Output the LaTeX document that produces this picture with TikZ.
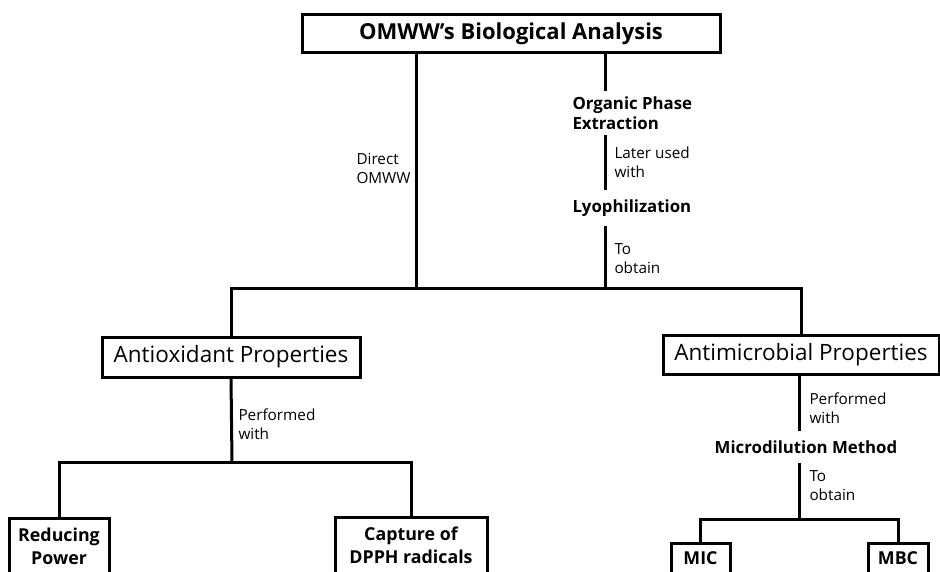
\documentclass[tikz,border=0pt]{standalone}
\usepackage{fontspec}
\setmainfont{Open Sans}
\begin{document}
\begin{tikzpicture}[x=1pt,y=-1pt,line width=3pt,
  box/.style={draw,line width=3pt,inner sep=0pt,align=center},
  title/.style={font=\bfseries\fontsize{22}{24}\selectfont},
  prop/.style={font=\fontsize{22.5}{24}\selectfont},
  stage/.style={font=\bfseries\fontsize{16.8}{20}\selectfont,align=left,inner sep=0pt},
  leaf/.style={font=\bfseries\fontsize{17.8}{23}\selectfont},
  lbl/.style={font=\fontsize{15.3}{19}\selectfont,align=left,inner sep=0pt,anchor=west}]
\clip (0,0) rectangle (940,572);

% boxes
\node[box,title,minimum width=418pt,minimum height=38pt] (root) at (511,34) {OMWW’s Biological Analysis};
\node[box,prop,minimum width=258pt,minimum height=40pt] (anti) at (231,357) {Antioxidant Properties};
\node[box,prop,minimum width=276pt,minimum height=39pt] (amic) at (801,354.5) {Antimicrobial Properties};
\node[box,leaf,minimum width=100pt,minimum height=57pt] (red) at (59,546.5) {Reducing\\Power};
\node[box,leaf,minimum width=152pt,minimum height=56pt] (cap) at (411,545) {Capture of\\DPPH radicals};
\node[box,leaf,minimum width=59pt,minimum height=30pt] (mic) at (700.5,558) {MIC};
\node[box,leaf,minimum width=60pt,minimum height=30pt] (mbc) at (898,558) {MBC};

% intermediate steps
\node[stage,anchor=west,inner ysep=4pt] (ope) at (571,113) {Organic Phase\\Extraction};
\node[stage,anchor=west,inner ysep=8pt] (lyo) at (571,208) {Lyophilization};
\node[stage,inner ysep=8pt] (micro) at (806,447) {Microdilution Method};

% junction points
\coordinate (spL) at (416,288);
\coordinate (spR) at (605,288);
\coordinate (hub) at (500,288);
\coordinate (hubA) at (232,462);
\coordinate (hubM) at (799,519);

% connectors from the root
\draw (root.south -| spL) -- (spL);
\draw (root.south -| spR) -- (spR |- ope.north);
\draw (ope.south -| spR) -- (lyo.north -| spR);
\draw (lyo.south -| spR) -- (spR);
\draw (anti.north) -- (anti.north |- hub) -- (amic.north |- hub) -- (amic.north);

% antioxidant branch
\draw (anti.south) -- (hubA);
\draw (red.north) -- (red.north |- hubA) -- (cap.north |- hubA) -- (cap.north);

% antimicrobial branch
\draw (amic.south -| hubM) -- (micro.north -| hubM);
\draw (micro.south -| hubM) -- (hubM);
\draw (mic.north) -- (mic.north |- hubM) -- (mbc.north |- hubM) -- (mbc.north);

% connector labels
\node[lbl] (l1) at (355,168.5) {Direct\\OMWW};
\node[lbl] (l2) at (613,162.5) {Later used\\with};
\node[lbl] (l3) at (613,258.5) {To\\obtain};
\node[lbl] (l4) at (237,424) {Performed\\with};
\node[lbl] (l5) at (808,408) {Performed\\with};
\node[lbl] (l6) at (808,485.5) {To\\obtain};
\end{tikzpicture}
\end{document}
